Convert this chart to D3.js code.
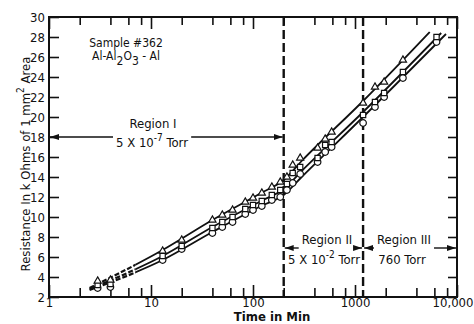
<!DOCTYPE html>
<html>
<head>
<meta charset="utf-8">
<script src="https://cdn.jsdelivr.net/npm/d3@7"></script>
<style>
  body { margin: 0; background: #fff; }
  svg text { font-family: "DejaVu Sans Condensed", "DejaVu Sans", sans-serif; font-stretch: condensed; fill: #111; }
</style>
</head>
<body>
<svg id="chart" width="474" height="324"></svg>
<script>
// measured points (time in min) and resistance for the three samples
const times        = [3, 4, 13, 20, 40, 50, 63, 84, 100, 122, 153, 185, 215, 245, 290, 430, 510, 590, 1200, 1570, 1930, 2950, 6300];
const triangleVals = [3.6, 3.7, 6.6, 7.7, 9.7, 10.2, 10.7, 11.5, 11.9, 12.4, 13.0, 13.5, 14.0, 15.2, 15.9, 16.9, 17.8, 18.5, 21.4, 23.0, 23.5, 25.7, null];
const squareVals   = [3.2, 3.3, 6.1, 7.1, 8.9, 9.5, 10.0, 10.8, 11.2, 11.6, 12.2, 12.7, 13.3, 14.4, 15.0, 15.9, 17.2, 17.5, 20.2, 21.5, 22.4, 24.5, 28.0];
const circleVals   = [2.9, 3.0, 5.7, 6.8, 8.4, 9.0, 9.5, 10.3, 10.7, 11.1, 11.7, 12.0, 12.7, 13.4, 14.3, 15.5, 16.5, 17.0, 19.4, 21.0, 22.0, 23.9, 27.5];

// drawn curves through the points
const triangleLine = [[2.5, 2.9], [13, 6.7], [40, 9.7], [120, 12.4], [200, 13.7], [300, 15.6], [1200, 21.6], [5400, 28.5]];
const squareLine   = [[2.5, 2.8], [13, 6.1], [40, 9.0], [120, 11.6], [200, 12.8], [300, 14.6], [1200, 20.5], [7000, 28.4]];
const circleLine   = [[2.5, 2.7], [13, 5.7], [40, 8.5], [120, 11.1], [200, 12.2], [300, 14.0], [1200, 20.0], [7800, 28.3]];
const dashedUntil = 7;

const dividerTimes = [200, 1200];
const xMajorTicks = [1, 10, 100, 1000, 10000];
const xTickLabels = ["1", "10", "100", "1000", "10,000"];
const xMinorTicks = [2, 4, 6, 8, 20, 40, 60, 80, 200, 400, 600, 800, 2000, 4000, 6000, 8000];
const yTicks = [2, 4, 6, 8, 10, 12, 14, 16, 18, 20, 22, 24, 26, 28, 30];

const svg = d3.select("#chart");
const pLeft = 49, pRight = 457, pTop = 17, pBottom = 297;

const x = d3.scaleLog().domain([1, 10000]).range([pLeft, pRight]);
const y = d3.scaleLinear().domain([2, 30]).range([pBottom, pTop]);

const defs = svg.append("defs");
defs.append("marker")
  .attr("id", "ah")
  .attr("markerUnits", "userSpaceOnUse")
  .attr("markerWidth", 9).attr("markerHeight", 6)
  .attr("refX", 9).attr("refY", 3)
  .attr("orient", "auto-start-reverse")
  .append("path").attr("d", "M0,0 L9,3 L0,6 Z").attr("fill", "#111");
defs.append("clipPath").attr("id", "solidClip")
  .append("rect").attr("x", x(dashedUntil)).attr("y", 0).attr("width", pRight - x(dashedUntil)).attr("height", 324);
defs.append("clipPath").attr("id", "dashClip")
  .append("rect").attr("x", 0).attr("y", 0).attr("width", x(dashedUntil)).attr("height", 324);

// axes (ticks point inward)
function styleAxis(g) {
  g.select(".domain").remove();
  g.selectAll("line").attr("stroke", "#111").attr("stroke-width", 1.6);
  g.selectAll("text").style("font-size", "13px").attr("fill", "#111");
}
svg.append("g").attr("transform", `translate(0,${pBottom})`)
  .call(d3.axisBottom(x).tickValues(xMajorTicks).tickSize(-12).tickPadding(1)
    .tickFormat((d, i) => xTickLabels[i]))
  .call(styleAxis)
  .call(g => g.selectAll(".tick:last-of-type text").attr("text-anchor", "end").attr("x", 16));
svg.append("g").attr("transform", `translate(0,${pBottom})`)
  .call(d3.axisBottom(x).tickValues(xMinorTicks).tickSize(-9).tickFormat(""))
  .call(styleAxis);
svg.append("g").attr("transform", `translate(0,${pTop})`)
  .call(d3.axisTop(x).tickValues(xMajorTicks).tickSize(-12).tickFormat(""))
  .call(styleAxis);
svg.append("g").attr("transform", `translate(0,${pTop})`)
  .call(d3.axisTop(x).tickValues(xMinorTicks).tickSize(-8).tickFormat(""))
  .call(styleAxis);
svg.append("g").attr("transform", `translate(${pLeft},0)`)
  .call(d3.axisLeft(y).tickValues(yTicks).tickSize(-10).tickPadding(4).tickFormat(d3.format("d")))
  .call(styleAxis);
svg.append("g").attr("transform", `translate(${pRight},0)`)
  .call(d3.axisRight(y).tickValues(yTicks).tickSize(-9).tickFormat(""))
  .call(styleAxis);

svg.append("rect")
  .attr("x", pLeft).attr("y", pTop).attr("width", pRight - pLeft).attr("height", pBottom - pTop)
  .attr("fill", "none").attr("stroke", "#111").attr("stroke-width", 2);

// region dividers
svg.append("g").selectAll("line")
  .data(dividerTimes)
  .join("line")
  .attr("x1", d => x(d)).attr("x2", d => x(d))
  .attr("y1", pTop).attr("y2", pBottom)
  .attr("stroke", "#111").attr("stroke-width", 2.4)
  .attr("stroke-dasharray", "9,4");

// curves
const lineGen = d3.line().x(d => x(d[0])).y(d => y(d[1])).curve(d3.curveMonotoneX);
const curves = [triangleLine, squareLine, circleLine];
svg.append("g").attr("clip-path", "url(#solidClip)")
  .selectAll("path").data(curves).join("path")
  .attr("d", lineGen).attr("fill", "none").attr("stroke", "#111").attr("stroke-width", 1.8);
svg.append("g").attr("clip-path", "url(#dashClip)")
  .selectAll("path").data(curves).join("path")
  .attr("d", lineGen).attr("fill", "none").attr("stroke", "#111").attr("stroke-width", 2.2)
  .attr("stroke-dasharray", "5,2");

// markers
const series = [
  { vals: circleVals, type: d3.symbolCircle, size: 34 },
  { vals: squareVals, type: d3.symbolSquare, size: 28 },
  { vals: triangleVals, type: d3.symbolTriangle, size: 22 }
];
series.forEach(s => {
  const pts = times.map((t, i) => [t, s.vals[i]]).filter(p => p[1] != null);
  svg.append("g").selectAll("path").data(pts).join("path")
    .attr("d", d3.symbol().type(s.type).size(s.size))
    .attr("transform", d => `translate(${x(d[0])},${y(d[1])})`)
    .attr("fill", "#fff").attr("stroke", "#111").attr("stroke-width", 1.2);
});

// annotations
const ann = svg.append("g");
function sup(txt, parts) {
  parts.forEach(p => {
    txt.append("tspan").text(p.t)
      .attr("dy", p.dy || 0)
      .style("font-size", p.fs || null);
  });
  return txt;
}
ann.append("text").attr("x", 126).attr("y", 47).attr("text-anchor", "middle")
  .style("font-size", "12px").text("Sample #362");
sup(ann.append("text").attr("x", 126).attr("y", 60).attr("text-anchor", "middle").style("font-size", "12px"),
  [{ t: "Al-Al" }, { t: "2", dy: 5 }, { t: "O", dy: -5 }, { t: "3", dy: 5 }, { t: " - Al", dy: -5 }]);

ann.append("text").attr("x", 153).attr("y", 128).attr("text-anchor", "middle")
  .style("font-size", "13px").text("Region I");
const t1 = sup(ann.append("text").attr("x", 152).attr("y", 147).attr("text-anchor", "middle").style("font-size", "13px"),
  [{ t: "5 X 10" }, { t: "-7", dy: -6, fs: "10px" }, { t: " Torr", dy: 6 }]);

const t2 = ann.append("text").attr("x", 327).attr("y", 244).attr("text-anchor", "middle")
  .style("font-size", "13px").text("Region II");
sup(ann.append("text").attr("x", 324).attr("y", 264).attr("text-anchor", "middle").style("font-size", "13px"),
  [{ t: "5 X 10" }, { t: "-2", dy: -6, fs: "10px" }, { t: " Torr", dy: 6 }]);
const t3 = ann.append("text").attr("x", 404).attr("y", 244).attr("text-anchor", "middle")
  .style("font-size", "13px").text("Region III");
ann.append("text").attr("x", 402).attr("y", 264).attr("text-anchor", "middle")
  .style("font-size", "13px").text("760 Torr");

// arrows, broken around the label they carry
function arrow(x1, x2, yv) {
  ann.append("line").attr("x1", x1).attr("x2", x2).attr("y1", yv).attr("y2", yv)
    .attr("stroke", "#111").attr("stroke-width", 1.4).attr("marker-end", "url(#ah)");
}
function span(textSel, xa, xb, yv) {
  const b = textSel.node().getBBox();
  arrow(b.x - 3, xa, yv);
  arrow(b.x + b.width + 3, xb, yv);
}
span(t1, pLeft + 1, x(200) - 1, y(18));
span(t2, x(200) + 1, x(1200) - 1, y(6.9));
span(t3, x(1200) + 1, pRight - 1, y(6.9));

// axis titles
ann.append("text").attr("x", 272).attr("y", 321).attr("text-anchor", "middle")
  .style("font-size", "13px").style("font-weight", "bold").text("Time in Min");
sup(ann.append("text").attr("transform", "translate(30,164) rotate(-90)").attr("text-anchor", "middle").style("font-size", "13px"),
  [{ t: "Resistance In k Ohms of  1 mm" }, { t: "2", dy: -6, fs: "10px" }, { t: " Area", dy: 6 }]);
</script>
</body>
</html>
